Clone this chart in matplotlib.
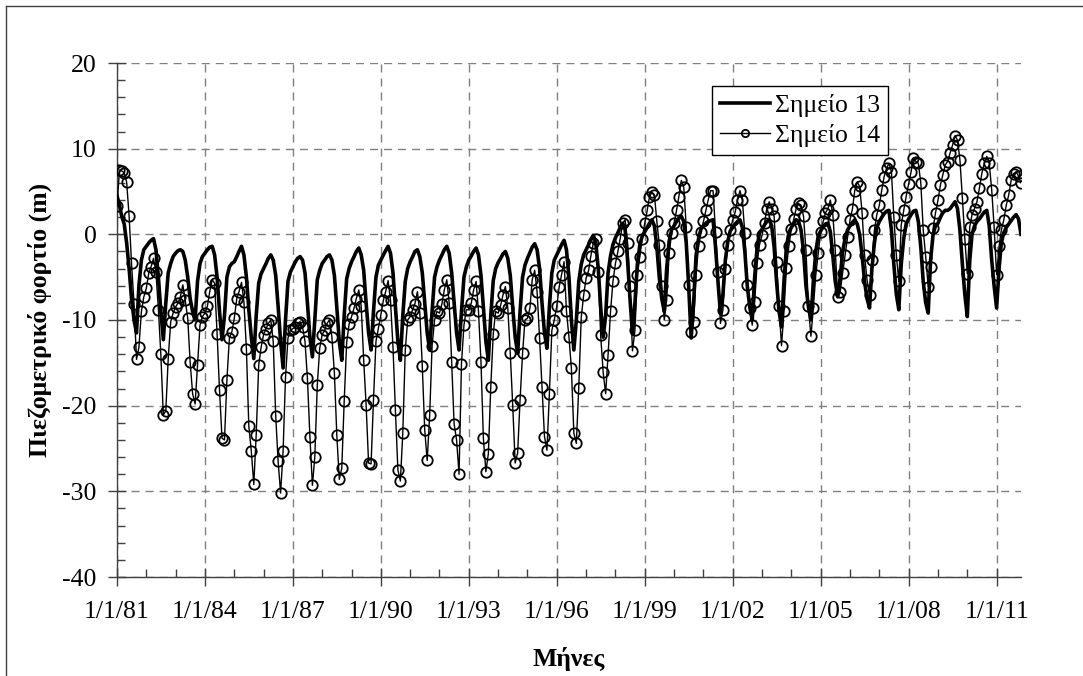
import matplotlib
matplotlib.use("Agg")
import matplotlib.pyplot as plt
import matplotlib.dates as mdates
from matplotlib.ticker import MultipleLocator, FixedLocator
from matplotlib.lines import Line2D
import pandas as pd
import datetime as dt

# ---------------- data (monthly, from Jan 1981) ----------------
series_names = ["Σημείο 13", "Σημείο 14"]

s13_1981_1985 = [
    4.5, 3.4, 2.1, 1.2, -1.0, -4.0, -7.5, -10.0, -11.5, -6.0, -3.0, -1.8,
    -1.4, -1.0, -0.7, -0.5, -1.8, -5.0, -9.0, -12.3, -8.0, -4.5, -3.4, -2.6,
    -2.2, -1.9, -1.8, -2.0, -3.0, -5.0, -7.5, -9.0, -10.0, -5.5, -3.4, -2.6,
    -2.2, -1.8, -1.5, -1.4, -2.4, -5.0, -9.0, -12.3, -9.5, -5.0, -3.8, -3.4,
    -3.2, -2.6, -2.0, -1.4, -2.4, -5.0, -8.8, -12.0, -14.5, -9.5, -5.7, -4.6,
]
s13_1986_1990 = [
    -4.0, -3.4, -2.8, -2.4, -3.0, -4.8, -8.4, -12.5, -15.6, -10.0, -5.5, -4.4,
    -3.8, -3.2, -2.8, -2.6, -3.0, -4.5, -8.0, -12.0, -14.3, -10.0, -5.3, -4.2,
    -3.4, -3.0, -2.6, -2.4, -3.0, -4.8, -8.5, -12.5, -14.7, -9.5, -5.2, -4.0,
    -3.2, -2.6, -2.0, -1.6, -2.4, -4.2, -8.0, -11.5, -13.5, -9.0, -5.0, -3.6,
    -3.0, -2.4, -1.9, -1.4, -2.2, -4.5, -8.5, -12.5, -14.7, -9.5, -5.5, -4.0,
]
s13_1991_1995 = [
    -3.2, -2.6, -2.0, -1.8, -2.6, -4.5, -8.0, -11.5, -13.5, -9.0, -5.0, -3.8,
    -3.0, -2.4, -1.8, -1.4, -2.2, -4.5, -8.0, -11.5, -13.5, -9.0, -5.0, -3.8,
    -3.0, -2.5, -2.0, -1.6, -2.4, -4.8, -8.5, -12.5, -14.7, -9.5, -5.4, -4.0,
    -3.3, -2.8, -2.3, -2.0, -2.8, -4.8, -8.5, -12.0, -13.9, -9.0, -5.0, -3.6,
    -2.8, -2.1, -1.5, -1.1, -1.8, -4.0, -8.0, -11.5, -13.3, -8.5, -4.5, -3.0,
]
s13_1996_2000 = [
    -2.4, -1.8, -1.2, -0.7, -1.8, -5.0, -10.0, -13.5, -10.0, -5.5, -3.5, -2.4,
    -1.8, -1.2, -0.6, -0.1, -1.0, -4.0, -8.5, -12.0, -9.5, -4.5, -2.5, -1.2,
    -0.4, 0.2, 0.8, 1.3, 0.6, -3.0, -7.5, -11.6, -8.0, -3.5, -1.2, -0.2,
    0.3, 0.8, 1.3, 1.7, 1.0, -1.5, -5.0, -7.5, -9.0, -4.0, -0.8, 0.5,
    1.0, 1.5, 1.9, 2.1, 1.5, -1.0, -6.0, -12.1, -8.0, -2.5, -0.5, 0.6,
]
s13_2001_2005 = [
    1.0, 1.3, 1.5, 1.6, 1.7, -1.5, -5.5, -9.2, -7.0, -3.0, -0.8, 0.4,
    0.8, 1.2, 1.5, 1.7, 0.8, -2.0, -6.0, -8.5, -10.0, -5.0, -1.5, 0.2,
    0.6, 1.1, 1.5, 1.7, 1.0, -1.5, -5.5, -9.0, -10.8, -5.5, -1.5, 0.2,
    0.8, 1.3, 1.7, 1.5, 0.5, -2.0, -6.0, -8.5, -10.0, -5.5, -2.0, -0.2,
    0.4, 0.9, 1.2, 1.3, 0.3, -2.5, -5.5, -7.3, -5.0, -2.0, -0.5, 0.5,
]
s13_2006_2011 = [
    1.0, 1.4, 1.7, 1.2, 0.0, -2.5, -5.5, -7.5, -8.6, -4.0, -1.0, 0.8,
    1.5, 2.0, 2.4, 2.7, 2.8, 0.5, -3.5, -7.0, -8.8, -3.5, -0.5, 1.2,
    1.8, 2.3, 2.7, 2.8, 1.5, -1.5, -5.5, -8.0, -9.2, -3.0, 0.0, 1.0,
    1.3, 2.0, 2.5, 2.8, 2.8, 3.0, 3.4, 3.8, 3.0, 0.5, -3.5, -7.0,
    -9.6, -3.0, 0.0, 1.0, 1.5, 1.8, 2.2, 2.6, 2.8, 1.0, -3.0, -6.0,
    -8.6, -4.0, -1.0, 0.2, 0.8, 1.2, 1.6, 2.0, 2.3, 1.8, 0.0,
]

s14_1981_1985 = [
    3.3, 7.5, 7.4, 7.2, 6.1, 2.1, -3.4, -8.1, -14.6, -13.2, -9.0, -7.3,
    -6.3, -4.5, -3.8, -2.8, -4.4, -8.8, -14.0, -21.1, -20.6, -14.5, -10.2, -9.2,
    -8.5, -8.0, -7.3, -5.9, -7.7, -9.8, -14.9, -18.6, -19.8, -15.3, -10.6, -9.6,
    -9.2, -8.4, -6.7, -5.3, -5.7, -11.6, -18.2, -23.8, -24.0, -17.0, -12.1, -11.4,
    -9.8, -7.5, -6.7, -5.6, -7.9, -13.4, -22.4, -25.3, -29.2, -23.4, -15.3, -13.2,
]
s14_1986_1990 = [
    -11.7, -11.0, -10.4, -10.0, -12.5, -21.2, -26.5, -30.2, -25.3, -16.7, -12.1, -11.2,
    -11.0, -10.8, -10.4, -10.2, -10.8, -12.5, -16.8, -23.6, -29.3, -26.0, -17.6, -13.3,
    -11.7, -11.2, -10.4, -10.0, -12.0, -16.2, -23.4, -28.6, -27.3, -19.5, -12.6, -10.5,
    -9.6, -8.6, -7.5, -6.5, -8.4, -14.7, -19.9, -26.7, -26.8, -19.3, -12.5, -11.0,
    -9.4, -7.7, -6.7, -5.4, -7.7, -13.2, -20.5, -27.5, -28.8, -23.2, -13.5, -10.0,
]
s14_1991_1995 = [
    -9.6, -8.8, -8.1, -6.7, -9.2, -15.4, -22.8, -26.4, -21.1, -13.0, -10.0, -9.0,
    -9.2, -8.1, -6.5, -5.3, -8.0, -14.9, -22.1, -24.0, -28.0, -15.1, -10.6, -8.8,
    -8.8, -8.0, -6.5, -5.5, -9.0, -14.9, -23.8, -27.7, -25.6, -17.8, -11.6, -9.0,
    -9.2, -8.3, -7.1, -6.1, -8.6, -13.9, -19.9, -26.7, -25.5, -19.3, -13.9, -10.0,
    -9.8, -8.6, -5.3, -4.2, -6.7, -12.1, -17.8, -23.6, -25.2, -18.6, -11.2, -10.0,
]
s14_1996_2000 = [
    -8.4, -6.1, -4.7, -3.2, -9.0, -12.0, -15.6, -23.2, -24.4, -17.9, -9.7, -7.1,
    -5.1, -4.2, -2.5, -1.0, -0.5, -4.4, -11.8, -16.1, -18.6, -14.1, -9.0, -5.5,
    -3.4, -2.0, -0.5, 1.3, 1.7, -1.0, -6.0, -13.6, -11.2, -4.7, -2.6, -0.5,
    1.3, 2.8, 4.4, 4.9, 4.6, 1.5, -1.2, -6.0, -10.0, -7.7, -2.2, 0.1,
    1.3, 2.8, 4.4, 6.3, 5.5, 0.9, -5.9, -11.4, -10.2, -4.7, -1.4, 0.3,
]
s14_2001_2005 = [
    1.5, 2.8, 4.0, 5.1, 5.1, 0.3, -4.4, -10.4, -8.8, -4.1, -1.2, 0.5,
    1.7, 2.6, 4.0, 5.1, 4.0, 0.1, -5.9, -8.6, -10.6, -7.9, -3.4, -1.2,
    -0.1, 1.3, 3.0, 3.8, 3.0, 2.1, -3.2, -8.4, -13.0, -9.0, -3.9, -1.4,
    0.6, 1.8, 3.0, 3.6, 3.4, 2.1, -1.8, -8.4, -11.9, -8.6, -4.7, -2.2,
    0.3, 1.5, 2.5, 3.0, 4.0, 2.3, -1.8, -7.3, -6.7, -4.5, -2.4, -0.3,
]
s14_2006_2011 = [
    1.7, 3.0, 5.1, 6.1, 5.6, 2.5, -2.4, -5.3, -7.1, -3.0, 0.5, 2.3,
    3.4, 5.2, 6.7, 7.7, 8.3, 7.3, 2.0, -2.4, -5.5, 1.1, 2.8, 4.4,
    5.9, 7.3, 8.9, 8.5, 8.3, 6.0, 0.5, -2.6, -6.1, -3.8, 0.7, 2.5,
    4.0, 5.8, 6.9, 8.1, 8.5, 9.5, 10.4, 11.5, 11.0, 8.7, 4.2, -0.5,
    -4.6, 0.9, 2.3, 3.0, 3.8, 5.4, 7.1, 8.3, 9.1, 8.3, 5.2, 0.9,
    -4.7, -1.4, 0.5, 1.7, 3.4, 4.6, 6.3, 7.1, 7.3, 6.8, 6.0,
]

major_years = [1981, 1984, 1987, 1990, 1993, 1996, 1999, 2002, 2005, 2008, 2011]
xtick_labels = ["1/1/81", "1/1/84", "1/1/87", "1/1/90", "1/1/93", "1/1/96",
                "1/1/99", "1/1/02", "1/1/05", "1/1/08", "1/1/11"]
yticks = [-40, -30, -20, -10, 0, 10, 20]
ytick_labels = ["-40", "-30", "-20", "-10", "0", "10", "20"]
ylabel = "Πιεζομετρικό φορτίο (m)"
xlabel = "Μήνες"

s13 = s13_1981_1985 + s13_1986_1990 + s13_1991_1995 + s13_1996_2000 + s13_2001_2005 + s13_2006_2011
s14 = s14_1981_1985 + s14_1986_1990 + s14_1991_1995 + s14_1996_2000 + s14_2001_2005 + s14_2006_2011
dates = pd.date_range("1981-01-01", periods=len(s13), freq="MS")

# ---------------- figure ----------------
plt.rcParams["font.family"] = ["Liberation Serif", "DejaVu Serif"]
plt.rcParams["axes.unicode_minus"] = False
FS = 18.5
W, H = 1083, 676
fig = plt.figure(figsize=(W / 100, H / 100), dpi=100)

ax_left, ax_right, ax_top, ax_bottom = 117, 1021, 63, 577
ax = fig.add_axes([ax_left / W, 1 - ax_bottom / H, (ax_right - ax_left) / W, (ax_bottom - ax_top) / H])

ax.plot(dates, s13, color="black", lw=2.6, label=series_names[0], zorder=3,
        solid_joinstyle="round")
ax.plot(dates, s14, color="black", lw=1.0, marker="o", ms=7.5, mfc="none",
        mec="black", mew=1.3, label=series_names[1], zorder=4)

ax.set_ylim(-40, 20)
ax.set_xlim(dates[0], dates[-1])

ax.set_yticks(yticks, ytick_labels)
ax.yaxis.set_minor_locator(MultipleLocator(2))
major_pos = [mdates.date2num(dt.datetime(y, 1, 1)) for y in major_years]
ax.xaxis.set_major_locator(FixedLocator(major_pos))
ax.set_xticklabels(xtick_labels)
minor_pos = [mdates.date2num(dt.datetime(y, 1, 1)) for y in range(1981, 2012)]
ax.xaxis.set_minor_locator(FixedLocator(minor_pos))

axis_col = "#404040"
for s in ["top", "right"]:
    ax.spines[s].set_visible(False)
for s in ["left", "bottom"]:
    ax.spines[s].set_color(axis_col)
    ax.spines[s].set_linewidth(1.0)

ax.tick_params(axis="both", which="major", direction="inout", length=13,
               width=1.0, color=axis_col, labelsize=FS)
ax.tick_params(axis="y", which="major", pad=8)
ax.tick_params(axis="x", which="major", pad=11)
ax.tick_params(axis="both", which="minor", direction="in", length=5.5,
               width=1.0, color=axis_col)

ax.grid(True, which="major", color="#808080", lw=1.0, linestyle=(0, (5.8, 4.3)))
ax.set_axisbelow(True)

# axis titles
fig.text(40 / W, 1 - 320 / H, ylabel, rotation=90, ha="center", va="center",
         fontsize=FS, fontweight="bold")
fig.text(569 / W, 1 - 659 / H, xlabel, ha="center", va="center",
         fontsize=FS, fontweight="bold")

# legend
leg = ax.legend(loc="upper left", bbox_to_anchor=(712 / W, 1 - 86 / H),
                bbox_transform=fig.transFigure, borderaxespad=0, fontsize=FS,
                frameon=True, fancybox=False, shadow=False, framealpha=1,
                edgecolor="black", handlelength=1.95, handletextpad=0.2,
                labelspacing=0.3, borderpad=0.3, numpoints=1, markerscale=0.7)
leg.get_frame().set_linewidth(1.0)

# outer chart border (left and top visible)
fig.add_artist(Line2D([6 / W, 6 / W], [0, 1 - 6 / H], transform=fig.transFigure,
                      color="#404040", lw=1.0))
fig.add_artist(Line2D([6 / W, 1], [1 - 6 / H, 1 - 6 / H], transform=fig.transFigure,
                      color="#404040", lw=1.0))

fig.savefig("out.png", dpi=100)
